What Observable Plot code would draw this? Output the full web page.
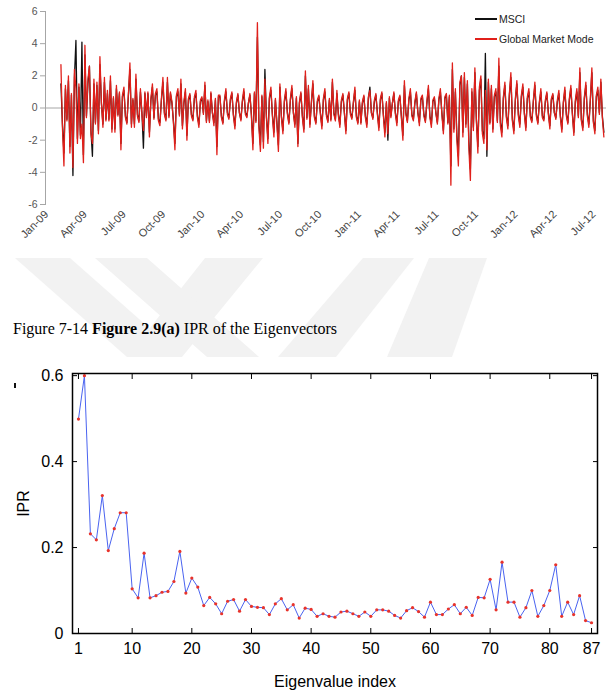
<!DOCTYPE html>
<html>
<head>
<meta charset="utf-8">
<script src="https://cdn.jsdelivr.net/npm/d3@7"></script>
<script src="https://cdn.jsdelivr.net/npm/@observablehq/plot@0.6"></script>
<style>
  html, body { margin: 0; padding: 0; background: #fff; }
  body { width: 606px; height: 697px; position: relative; overflow: hidden; font-family: "Liberation Sans", Arial, sans-serif; }
  #wm { position: absolute; left: 0; top: 0; }
  #top { position: absolute; left: 0; top: 0; }
  #legend { position: absolute; left: 475px; top: 9px; font-size: 10.5px; color: #222; }
  #legend .row { height: 20px; line-height: 14px; display: flex; align-items: center; white-space: nowrap; }
  #legend .row span.sw { display: inline-block; width: 22px; height: 2.5px; margin-right: 2px; }
  #caption { position: absolute; left: 13px; top: 320px; font-family: "Liberation Serif", "Times New Roman", serif; font-size: 16px; line-height: 18px; color: #000; white-space: nowrap; }
  #bottom { position: absolute; left: 0; top: 360px; }
  #speck { position: absolute; left: 14px; top: 383px; width: 2px; height: 5px; background: #111; }
</style>
</head>
<body>
<svg id="wm" width="606" height="697"></svg>
<div id="top"></div>
<div id="legend"></div>
<div id="caption"></div>
<div id="speck"></div>
<div id="bottom"></div>
<script>
// ---------- Top chart data (samples every 3.5 days, starting 2009-01-02) ----------
const startDate = "2009-01-02";
const seriesNames = ["MSCI", "Global Market Mode"];
const seriesColors = ["#111111", "#e0201b"];
const msci = [
  1.5, -1.0, -2.8, 1.2, -0.7, 1.7, -2.4, 0.8, -4.2, 1.9, 4.2, -1.9, 1.3, -1.7, 4.1, -2.9, 3.3, -0.5, 1.5, 2.6,
  -1.4, -3.0, 1.5, -0.9, 1.4, -1.4, 2.7, 0.3, -1.0, 1.6, -0.7, 0.9, -0.7, 1.7, -1.3, 0.6, -1.3, 1.2, -0.4, 0.9,
  -2.2, 0.7, 1.1, -0.5, -0.9, 0.8, 2.4, -1.0, 0.5, -1.0, 1.8, -0.4, -0.8, 1.0, -0.3, -2.5, 0.9, -0.5, 0.9, -1.5,
  0.5, 1.3, -0.6, 0.8, 1.0, -0.7, -0.9, 0.5, 1.6, -0.3, -0.7, 1.6, -0.5, 0.9, 0.3, -0.8, -2.2, 0.7, 1.0, -0.4,
  1.5, -1.1, 0.3, 1.0, -1.7, 0.5, 0.8, -0.4, -0.7, 0.6, 0.9, -0.5, -1.0, 0.4, 0.6, -0.3, 1.4, -0.8, 0.4, -0.8,
  0.9, -0.3, -0.9, 0.5, -2.4, 0.7, 0.7, -0.5, -0.9, 0.4, 1.0, -0.3, -0.6, 0.5, 0.9, -0.4, -1.1, 0.3, 0.8, -0.3,
  -0.7, 0.4, 1.0, -0.3, -0.5, 0.3, 0.8, -0.4, -2.2, 0.9, -0.8, 4.4, -1.0, -2.3, 0.7, -2.1, 2.4, -0.5, -1.9, 0.6,
  1.1, -0.4, -1.5, 0.5, -0.9, -2.3, 1.3, -0.5, -1.4, 0.4, 1.0, -0.3, -0.9, 0.5, 1.2, -0.3, -1.0, 0.6, -2.2, 0.3,
  0.9, -0.5, -1.3, 2.0, -0.6, 1.2, -1.0, 0.3, 1.5, -0.5, -0.9, 0.4, 0.7, -0.3, -1.1, 0.5, 1.0, -0.4, -0.8, 0.5,
  -0.7, 1.6, -0.3, -0.7, 0.9, -0.4, -1.0, 0.4, 0.8, -0.3, -1.4, 0.5, 0.9, -0.3, -0.6, 0.3, 1.1, -0.5, -0.9, 0.4,
  -0.9, 0.3, 0.7, -0.5, -1.0, 0.6, 1.3, -0.3, -0.6, 0.4, 0.8, -0.3, -1.2, 0.5, 0.9, -0.4, -1.5, 0.3, -2.0, 0.6,
  -0.5, 0.3, 0.9, -0.3, -0.9, 0.4, 0.7, -0.5, -1.7, 1.4, -0.3, -0.8, 0.5, 1.0, -0.4, -0.7, 0.3, 0.9, -0.3, -0.9,
  0.5, 0.7, -0.4, -0.8, 0.3, 1.2, -0.5, -1.0, 0.4, 0.6, -0.3, -0.9, 0.5, 1.0, -0.3, -1.4, 0.6, 0.8, -0.9, 0.7,
  -3.6, 2.4, -1.3, 1.0, -1.7, -3.0, 1.4, 2.0, -1.5, 1.9, -1.0, 1.5, -2.1, -3.8, 1.0, -1.2, 2.2, -0.7, -2.4, 1.1,
  1.8, -1.4, -1.9, 3.4, -3.0, 1.6, -0.9, 1.2, -1.3, 0.7, 1.0, -0.8, 2.6, -0.9, -1.5, 0.6, 1.4, -0.5, -1.1, 0.8,
  1.9, -0.7, -1.4, 0.5, 1.5, -0.4, -1.0, 0.7, 1.3, -0.3, -1.2, 0.6, 1.0, -0.5, -0.8, 0.4, 1.4, -0.4, -0.9, 0.3,
  1.0, -0.5, -0.7, 0.4, 0.9, -0.3, -1.1, 0.5, 0.8, -0.3, -0.6, 0.4, 0.9, -0.5, -1.3, 0.3, 1.1, -0.4, -0.9, 0.5,
  1.2, -0.3, -1.5, 0.4, 1.0, -0.5, 2.2, -0.7, -1.2, 0.6, 1.4, -0.4, -1.0, 0.5, 2.2, -0.8, -1.4, 0.7, 1.1, -0.3, 1.6, -0.5, -1.5
];
const globalMarketMode = [
  2.7, -1.2, -3.6, 1.4, -0.8, 2.0, -2.8, 0.9, -3.7, 2.4, 1.2, -2.2, 1.5, -1.9, -1.0, -3.4, 3.9, -0.6, 1.8, 2.6,
  -1.6, -2.2, 1.8, -1.0, 1.6, -1.6, 3.2, 0.3, -1.2, 1.9, -0.8, 1.1, -0.8, 2.0, -1.5, 0.7, -1.5, 1.4, -0.5, 1.0,
  -2.6, 0.8, 1.3, -0.6, -1.0, 0.9, 2.8, -1.2, 0.6, -1.2, 2.1, -0.5, -0.9, 1.2, -0.4, -1.4, 1.0, -0.6, 1.0, -1.8,
  0.6, 1.5, -0.7, 0.9, 1.2, -0.8, -1.1, 0.6, 1.9, -0.4, -0.8, 1.9, -0.6, 1.0, 0.4, -0.9, -2.6, 0.8, 1.2, -0.5,
  1.8, -1.3, 0.4, 1.2, -2.0, 0.6, 0.9, -0.5, -0.8, 0.7, 1.1, -0.6, -1.2, 0.5, 0.7, -0.4, 1.6, -0.9, 0.5, -0.9,
  1.0, -0.3, -1.1, 0.6, -2.9, 0.8, 0.8, -0.6, -1.0, 0.5, 1.2, -0.4, -0.7, 0.6, 1.0, -0.5, -1.3, 0.4, 0.9, -0.3,
  -0.8, 0.5, 1.2, -0.4, -0.6, 0.3, 0.9, -0.5, -2.6, 1.0, -0.9, 5.3, -1.2, -2.7, 0.8, -2.5, 1.8, -0.6, -2.2, 0.7,
  1.3, -0.5, -1.8, 0.6, -1.0, -2.7, 1.5, -0.6, -1.6, 0.5, 1.2, -0.4, -1.0, 0.6, 1.4, -0.3, -1.2, 0.7, -2.4, 0.4,
  1.0, -0.6, -1.5, 2.3, -0.7, 1.4, -1.2, 0.4, 1.7, -0.6, -1.0, 0.5, 0.8, -0.4, -1.3, 0.6, 1.2, -0.5, -0.9, 0.6,
  -0.8, 1.8, -0.4, -0.8, 1.1, -0.5, -1.2, 0.5, 0.9, -0.3, -1.6, 0.6, 1.0, -0.4, -0.7, 0.4, 1.3, -0.6, -1.0, 0.5,
  -1.0, 0.4, 0.8, -0.6, -1.2, 0.7, 1.1, -0.3, -0.7, 0.5, 0.9, -0.4, -1.4, 0.6, 1.0, -0.5, -1.8, 0.4, -1.6, 0.7,
  -0.6, 0.3, 1.0, -0.4, -1.1, 0.5, 0.8, -0.6, -2.0, 1.7, -0.4, -0.9, 0.6, 1.2, -0.5, -0.8, 0.4, 1.0, -0.3, -1.1,
  0.6, 0.8, -0.5, -0.9, 0.4, 1.4, -0.6, -1.2, 0.5, 0.7, -0.3, -1.0, 0.6, 1.2, -0.4, -1.6, 0.7, 0.9, -1.0, 0.8,
  -4.8, 2.8, -1.5, 1.2, -2.0, -3.6, 1.6, 2.0, -1.8, 2.2, -1.2, 1.7, -2.5, -4.5, 1.2, -1.4, 2.5, -0.8, -2.8, 1.3,
  2.0, -1.6, -2.2, 1.1, -2.6, 1.8, -1.0, 1.4, -1.5, 0.8, 1.2, -0.9, 3.1, -1.1, -1.8, 0.7, 1.6, -0.6, -1.3, 0.9,
  2.2, -0.8, -1.6, 0.6, 1.7, -0.5, -1.2, 0.8, 1.5, -0.4, -1.4, 0.7, 1.2, -0.6, -0.9, 0.5, 1.6, -0.5, -1.0, 0.4,
  1.2, -0.6, -0.8, 0.5, 1.0, -0.4, -1.3, 0.6, 0.9, -0.3, -0.7, 0.5, 1.1, -0.6, -1.5, 0.4, 1.3, -0.5, -1.0, 0.6,
  1.4, -0.4, -1.7, 0.5, 1.2, -0.6, 2.5, -0.8, -1.4, 0.7, 1.6, -0.5, -1.2, 0.6, 2.5, -0.9, -1.6, 0.8, 1.3, -0.4, 1.8, -0.6, -1.8
];
const topYTicks = [-6, -4, -2, 0, 2, 4, 6];
const quarterLabels = ["Jan-09","Apr-09","Jul-09","Oct-09","Jan-10","Apr-10","Jul-10","Oct-10",
  "Jan-11","Apr-11","Jul-11","Oct-11","Jan-12","Apr-12","Jul-12"];

// ---------- Bottom chart data ----------
const ipr = [
  0.499, 0.600, 0.232, 0.218, 0.321, 0.193, 0.244, 0.281, 0.281, 0.104,
  0.083, 0.187, 0.083, 0.088, 0.096, 0.098, 0.121, 0.191, 0.094, 0.129,
  0.108, 0.065, 0.084, 0.069, 0.046, 0.075, 0.079, 0.052, 0.079, 0.063,
  0.061, 0.060, 0.044, 0.069, 0.081, 0.055, 0.067, 0.036, 0.059, 0.056,
  0.040, 0.046, 0.040, 0.038, 0.050, 0.052, 0.046, 0.040, 0.050, 0.040,
  0.055, 0.055, 0.052, 0.042, 0.036, 0.053, 0.060, 0.051, 0.038, 0.073,
  0.044, 0.044, 0.057, 0.067, 0.046, 0.061, 0.042, 0.084, 0.083, 0.126,
  0.055, 0.166, 0.073, 0.073, 0.038, 0.060, 0.100, 0.040, 0.065, 0.100,
  0.160, 0.040, 0.073, 0.044, 0.088, 0.030, 0.025
];
const iprXTicks = [1, 10, 20, 30, 40, 50, 60, 70, 80, 87];
const iprYTicks = [0, 0.2, 0.4, 0.6];

// ---------- faint background watermark (decoration) ----------
const wmBands = [
  [[15,258],[70,258],[182,357],[127,357]],
  [[205,258],[263,258],[182,357],[127,357]],
  [[95,258],[147,258],[259,357],[207,357]],
  [[363,258],[414,258],[336,357],[278,357]],
  [[429,258],[487,258],[452,357],[387,357]]
];
const wm = d3.select("#wm");
wm.selectAll("polygon").data(wmBands).join("polygon")
  .attr("points", d => d.map(p => p.join(",")).join(" "))
  .attr("fill", "#f2f2f2");

// ---------- Build tables ----------
const parseQ = d3.utcParse("%b-%y");
const fmtQ = d3.utcFormat("%b-%y");
const quarterDates = quarterLabels.map(parseQ);
const t0 = new Date(startDate + "T00:00:00Z");
const toRows = (arr, name) => arr.map((v, i) => ({date: d3.utcHour.offset(t0, 84 * i), value: v, series: name}));
const msciRows = toRows(msci, seriesNames[0]);
const gmmRows = toRows(globalMarketMode, seriesNames[1]);

const topFont = '"Liberation Sans", Arial, sans-serif';
const topChart = Plot.plot({
  width: 606, height: 250,
  marginLeft: 45, marginRight: 0, marginTop: 11, marginBottom: 46,
  style: {fontFamily: topFont, background: "transparent", overflow: "hidden"},
  x: {type: "utc", domain: [new Date("2009-01-01T00:00:00Z"), new Date("2012-08-01T00:00:00Z")], range: [60, 620.5], label: null},
  y: {domain: [-6, 6], label: null},
  marks: [
    Plot.ruleY([0], {stroke: "#a6a6a6", strokeWidth: 1}),
    Plot.frame({anchor: "left", stroke: "#a6a6a6"}),
    Plot.axisY({ticks: topYTicks, tickSize: 5, tickPadding: 3, fontSize: 10.5, fill: "#555", stroke: "#a6a6a6",
      tickFormat: d => String(d), label: null}),
    Plot.lineY(msciRows, {x: "date", y: "value", stroke: seriesColors[0], strokeWidth: 1.3}),
    Plot.lineY(gmmRows, {x: "date", y: "value", stroke: seriesColors[1], strokeWidth: 1.3}),
    Plot.axisX({ticks: quarterDates, tickFormat: fmtQ, tickRotate: -45, tickSize: 0, tickPadding: 8, dx: -14, fontSize: 11, fill: "#444", label: null})
  ]
});
document.getElementById("top").appendChild(topChart);

// legend
const legend = document.getElementById("legend");
seriesNames.forEach((n, i) => {
  const row = document.createElement("div");
  row.className = "row";
  const sw = document.createElement("span");
  sw.className = "sw";
  sw.style.background = seriesColors[i];
  row.appendChild(sw);
  row.appendChild(document.createTextNode(n));
  legend.appendChild(row);
});

// caption
document.getElementById("caption").innerHTML = 'Figure 7-14 <b>Figure 2.9(a)</b> IPR of the Eigenvectors';

// bottom chart
const iprData = ipr.map((v, i) => ({index: i + 1, ipr: v}));
const botFont = '"Liberation Sans", Arial, Helvetica, sans-serif';
const noText = () => "";
const bottomChart = Plot.plot({
  width: 606, height: 337,
  marginLeft: 72, marginRight: 9, marginTop: 13, marginBottom: 64,
  style: {fontFamily: botFont, background: "transparent", color: "#000"},
  x: {domain: [0, 88], label: null},
  y: {domain: [0, 0.605], label: null},
  marks: [
    Plot.axisX({anchor: "bottom", ticks: iprXTicks, tickSize: 5, dy: -5, tickFormat: noText, label: null}),
    Plot.axisX({anchor: "top", ticks: iprXTicks, tickSize: 5, dy: 5, tickFormat: noText, label: null}),
    Plot.axisY({anchor: "left", ticks: iprYTicks, tickSize: 5, dx: 5, tickFormat: noText, label: null}),
    Plot.axisY({anchor: "right", ticks: iprYTicks, tickSize: 5, dx: -5, tickFormat: noText, label: null}),
    Plot.axisX({anchor: "bottom", ticks: iprXTicks, tickSize: 0, tickPadding: 9, fontSize: 16,
      label: "Eigenvalue index", labelAnchor: "center", labelArrow: "none", labelOffset: 53}),
    Plot.axisY({anchor: "left", ticks: iprYTicks, tickSize: 0, tickPadding: 9, fontSize: 16,
      tickFormat: d => d === 0 ? "0" : d3.format(".1f")(d),
      label: "IPR", labelAnchor: "center", labelArrow: "none", labelOffset: 55}),
    Plot.lineY(iprData, {x: "index", y: "ipr", stroke: "#4a63f0", strokeWidth: 1}),
    Plot.dot(iprData, {x: "index", y: "ipr", r: 1.6, fill: "#e8332b", stroke: "none"}),
    Plot.frame({stroke: "#000", strokeWidth: 1.5})
  ]
});
document.getElementById("bottom").appendChild(bottomChart);
</script>
</body>
</html>
